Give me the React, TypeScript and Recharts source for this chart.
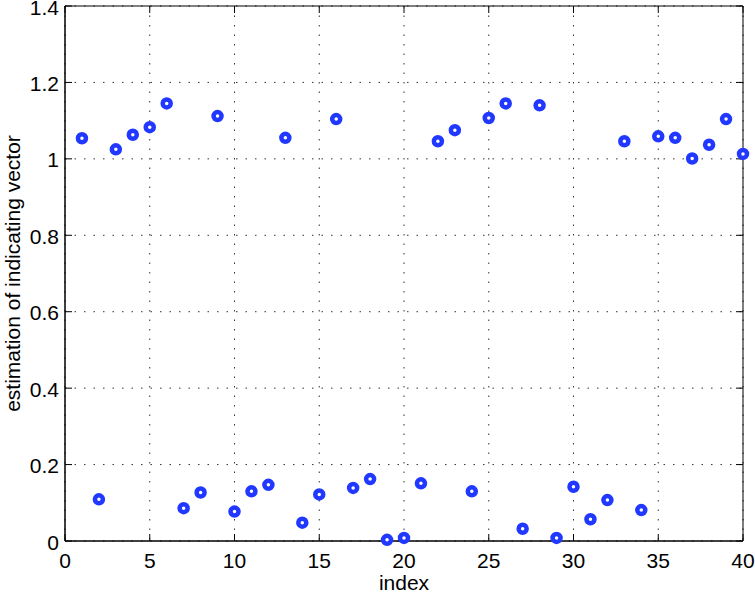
import React from 'react';
import {
  ScatterChart,
  Scatter,
  XAxis,
  YAxis,
  CartesianGrid,
  Label,
  ReferenceArea,
  ReferenceLine,
} from 'recharts';

const indexValues = [
  1, 2, 3, 4, 5, 6, 7, 8, 9, 10,
  11, 12, 13, 14, 15, 16, 17, 18, 19, 20,
  21, 22, 23, 24, 25, 26, 27, 28, 29, 30,
  31, 32, 33, 34, 35, 36, 37, 38, 39, 40,
];
const estimates = [
  1.054, 0.109, 1.025, 1.063, 1.083, 1.145, 0.086, 0.127, 1.112, 0.077,
  0.130, 0.147, 1.055, 0.048, 0.122, 1.104, 0.139, 0.162, 0.003, 0.008,
  0.151, 1.046, 1.075, 0.130, 1.107, 1.145, 0.032, 1.140, 0.008, 0.142,
  0.057, 0.107, 1.046, 0.081, 1.059, 1.055, 1.001, 1.037, 1.104, 1.013,
];
const xTicks = [0, 5, 10, 15, 20, 25, 30, 35, 40];
const yTicks = [0, 0.2, 0.4, 0.6, 0.8, 1, 1.2, 1.4];
const xLabel = 'index';
const yLabel = 'estimation of indicating vector';

const data = indexValues.map((x, i) => ({ x, y: estimates[i] }));

const FONT = '"Liberation Sans", Arial, Helvetica, sans-serif';
const BLUE = '#2038ff';
const TICK_FONT = 21;
const TICK_LEN = 7;

const Ring = (props: any) => {
  const { cx, cy } = props;
  if (cx == null || cy == null) return null;
  return <circle cx={cx} cy={cy} r={4} fill="#fff" stroke={BLUE} strokeWidth={4.5} />;
};

const fmt = (v: number) => String(Math.round(v * 10) / 10);

const XTick = (props: any) => {
  const { x, y, payload } = props;
  return (
    <text x={x} y={y + 15.5} textAnchor="middle" fill="#000" fontSize={TICK_FONT} fontFamily={FONT}>
      {fmt(payload.value)}
    </text>
  );
};

const YTick = (props: any) => {
  const { x, y, payload } = props;
  return (
    <text x={x} y={y + 8.5} textAnchor="end" fill="#000" fontSize={TICK_FONT} fontFamily={FONT}>
      {fmt(payload.value)}
    </text>
  );
};

// top tick marks: short segment hanging down from the top frame edge
const TopTick = (props: any) => {
  const { x1, y1, y2 } = props;
  if (x1 == null) return <g />;
  const top = Math.min(y1, y2);
  return <line x1={x1} x2={x1} y1={top} y2={top + TICK_LEN} stroke="#000" strokeWidth={1} />;
};

// right tick marks: short segment pointing left from the right frame edge
const RightTick = (props: any) => {
  const { x1, x2, y1 } = props;
  if (y1 == null) return <g />;
  const right = Math.max(x1, x2);
  return <line x1={right - TICK_LEN} x2={right} y1={y1} y2={y1} stroke="#000" strokeWidth={1} />;
};

export default function App() {
  return (
    <div style={{ position: 'absolute', left: 0, top: 0, width: 755, height: 592, background: '#fff' }}>
      <ScatterChart
        width={755}
        height={592}
        margin={{ top: 6, right: 12, bottom: 0, left: 0 }}
        style={{ fontFamily: FONT }}
      >
        <CartesianGrid stroke="#333" strokeDasharray="1.5 8" />
        <XAxis
          type="number"
          dataKey="x"
          domain={[0, 40]}
          ticks={xTicks}
          height={51}
          axisLine={{ stroke: '#000', strokeWidth: 1 }}
          tickLine={{ stroke: '#000' }}
          tickSize={-TICK_LEN}
          tickMargin={18}
          tick={<XTick />}
          interval={0}
        >
          <Label
            content={() => (
              <text x={404} y={590} textAnchor="middle" fill="#000" fontSize={21} fontFamily={FONT}>
                {xLabel}
              </text>
            )}
          />
        </XAxis>
        <YAxis
          type="number"
          dataKey="y"
          domain={[0, 1.4]}
          ticks={yTicks}
          width={65}
          axisLine={{ stroke: '#000', strokeWidth: 1 }}
          tickLine={{ stroke: '#000' }}
          tickSize={-TICK_LEN}
          tickMargin={13}
          tick={<YTick />}
          interval={0}
        >
          <Label
            content={() => (
              <text
                x={-273.5}
                y={20}
                transform="rotate(-90)"
                textAnchor="middle"
                fill="#000"
                fontSize={21}
                fontFamily={FONT}
              >
                {yLabel}
              </text>
            )}
          />
        </YAxis>
        <ReferenceArea
          x1={0}
          x2={40}
          y1={0}
          y2={1.4}
          fill="none"
          fillOpacity={0}
          stroke="#000"
          strokeWidth={1}
          strokeOpacity={1}
          ifOverflow="visible"
        />
        {xTicks.map((t) => (
          <ReferenceLine key={`tx${t}`} x={t} shape={TopTick} ifOverflow="visible" />
        ))}
        {yTicks.map((t) => (
          <ReferenceLine key={`ty${t}`} y={t} shape={RightTick} ifOverflow="visible" />
        ))}
        <Scatter data={data} fill={BLUE} shape={Ring} isAnimationActive={false} />
      </ScatterChart>
    </div>
  );
}
